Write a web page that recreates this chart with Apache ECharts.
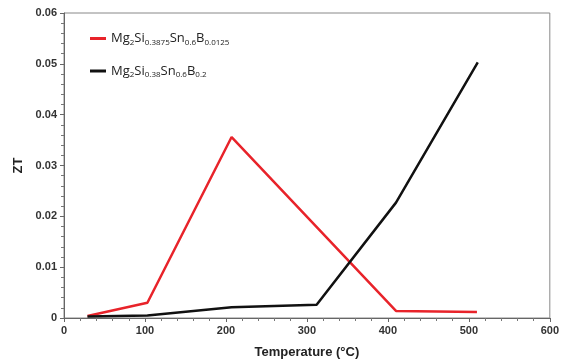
<!DOCTYPE html>
<html><head><meta charset="utf-8">
<script src="https://cdn.jsdelivr.net/npm/echarts@6/dist/echarts.min.js"></script>
<style>html,body{margin:0;padding:0;background:#fff}#c{width:562px;height:364px}</style>
</head><body><div id="c"></div>
<script>
const seriesNames = ['Mg2Si0.3875Sn0.6B0.0125', 'Mg2Si0.38Sn0.6B0.2'];
const redTemps = [29, 103, 207, 410, 510];
const redZT = [0.0004, 0.003, 0.0356, 0.0014, 0.0012];
const blackTemps = [29, 103, 207, 312, 410, 511];
const blackZT = [0.0003, 0.0005, 0.0021, 0.0026, 0.0227, 0.0503];
const xTicks = [0, 100, 200, 300, 400, 500, 600];
const yTicks = [0, 0.01, 0.02, 0.03, 0.04, 0.05, 0.06];

const legendRich = {
  '0': '{n|Mg}{s|2}{n|Si}{s|0.3875}{n|Sn}{s|0.6}{n|B}{s|0.0125}',
  '1': '{n|Mg}{s|2}{n|Si}{s|0.38}{n|Sn}{s|0.6}{n|B}{s|0.2}'
};
const chart = echarts.init(document.getElementById('c'));
const axisFont = {fontFamily: 'Liberation Sans', fontWeight: 'bold', fontSize: 11, color: '#333'};
chart.setOption({
  animation: false,
  grid: {left: 64, right: 6, top: 13, bottom: 44, show: true, borderColor: '#888', borderWidth: 1},
  legend: {
    orient: 'vertical', left: 85, top: 27, itemGap: 18,
    itemWidth: 16, itemHeight: 3, icon: 'rect',
    data: seriesNames,
    formatter: function (name) { return legendRich[seriesNames.indexOf(name)]; },
    textStyle: {
      fontFamily: 'Open Sans', fontSize: 13, color: '#222',
      rich: {
        n: {fontFamily: 'Open Sans', fontSize: 13, color: '#222'},
        s: {fontFamily: 'Open Sans', fontSize: 8, color: '#222', padding: [8, 0, 0, 0]}
      }
    }
  },
  xAxis: {
    type: 'value', min: xTicks[0], max: xTicks[xTicks.length - 1], interval: 100,
    name: 'Temperature (°C)', nameLocation: 'middle', nameGap: 28,
    nameTextStyle: {fontFamily: 'Liberation Sans', fontWeight: 'bold', fontSize: 13, color: '#222'},
    axisLine: {lineStyle: {color: '#666', width: 1}},
    axisTick: {lineStyle: {color: '#666'}, length: 4},
    minorTick: {show: true, splitNumber: 5, length: 3, lineStyle: {color: '#777'}},
    axisLabel: Object.assign({margin: 7}, axisFont),
    splitLine: {show: false}
  },
  yAxis: {
    type: 'value', min: yTicks[0], max: yTicks[yTicks.length - 1], interval: 0.01,
    name: 'ZT', nameLocation: 'middle', nameGap: 37,
    nameTextStyle: {fontFamily: 'Liberation Sans', fontWeight: 'bold', fontSize: 13, color: '#222'},
    axisLine: {show: true, lineStyle: {color: '#666', width: 1}},
    axisTick: {show: true, lineStyle: {color: '#666'}, length: 4},
    minorTick: {show: true, splitNumber: 5, length: 3, lineStyle: {color: '#777'}},
    axisLabel: Object.assign({margin: 7, formatter: v => v === 0 ? '0' : String(+v.toFixed(2))}, axisFont),
    splitLine: {show: false}
  },
  series: [
    {name: seriesNames[0], type: 'line', data: redTemps.map((t, i) => [t, redZT[i]]),
     showSymbol: false, lineStyle: {color: '#e8232a', width: 2.5}, itemStyle: {color: '#e8232a'}},
    {name: seriesNames[1], type: 'line', data: blackTemps.map((t, i) => [t, blackZT[i]]),
     showSymbol: false, lineStyle: {color: '#111', width: 2.5}, itemStyle: {color: '#111'}}
  ]
});
</script></body></html>
